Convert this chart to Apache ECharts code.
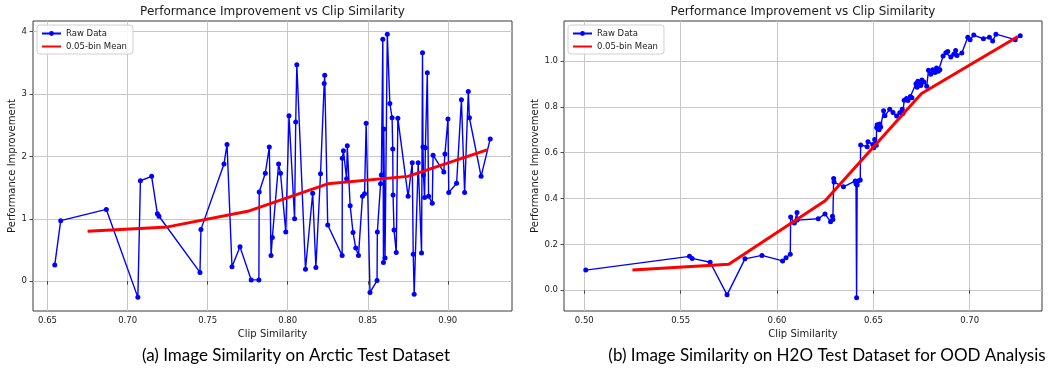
<!DOCTYPE html>
<html><head><meta charset="utf-8">
<script src="https://cdn.jsdelivr.net/npm/echarts@6/dist/echarts.min.js"></script>
<style>html,body{margin:0;padding:0;background:#fff}#c{width:1062px;height:373px}</style>
</head><body><div id="c"></div>
<script>
// ---- Left chart (Arctic) ----
const leftX = [0.6545,0.6582,0.6867,0.7064,0.7080,0.7150,0.7186,0.7196,0.7452,0.7458,
  0.7602,0.7621,0.7652,0.7702,0.7772,0.7820,0.7822,0.7860,0.7885,0.7896,
  0.7904,0.7943,0.7955,0.7988,0.8008,0.8043,0.8050,0.8057,0.8111,0.8156,
  0.8176,0.8205,0.8228,0.8231,0.8250,0.8340,0.8341,0.8348,0.8368,0.8372,
  0.8390,0.8408,0.8425,0.8442,0.8467,0.8480,0.8490,0.8514,0.8558,0.8560,
  0.8580,0.8585,0.8594,0.8598,0.8600,0.8608,0.8622,0.8638,0.8652,0.8656,
  0.8658,0.8664,0.8678,0.8688,0.8752,0.8778,0.8784,0.8790,0.8815,0.8836,
  0.8842,0.8845,0.8848,0.8855,0.8860,0.8872,0.8880,0.8903,0.8908,0.8975,
  0.8982,0.9001,0.9006,0.9055,0.9085,0.9105,0.9128,0.9135,0.9208,0.9265];
const leftY = [0.26,0.97,1.15,-0.26,1.61,1.68,1.08,1.04,0.14,0.83,
  1.88,2.19,0.23,0.55,0.02,0.02,1.43,1.73,2.15,0.41,
  0.70,1.88,1.73,0.79,2.65,1.00,2.55,3.47,0.19,1.41,
  0.22,1.72,3.17,3.30,0.90,0.41,1.97,2.09,1.64,2.17,
  1.21,0.78,0.53,0.41,1.36,1.40,2.53,-0.18,0.01,0.79,
  1.56,1.70,3.88,0.30,2.44,0.37,3.96,2.85,2.62,2.12,
  1.38,0.82,0.46,2.61,1.36,1.90,0.43,-0.21,1.90,0.45,
  3.66,2.15,1.70,1.34,2.14,3.34,1.36,1.25,2.02,1.75,
  2.04,2.60,1.42,1.57,2.91,1.42,3.04,2.62,1.68,2.28];
const leftMeanX = [0.675,0.725,0.775,0.825,0.875,0.925];
const leftMeanY = [0.80,0.87,1.12,1.56,1.68,2.11];
const leftXTicks = [0.65,0.70,0.75,0.80,0.85,0.90];
const leftYTicks = [0,1,2,3,4];

// ---- Right chart (H2O) ----
const rightX = [0.5008,0.5546,0.5560,0.5653,0.5741,0.5834,0.5922,0.6029,0.6047,0.6069,
  0.6071,0.6090,0.6104,0.6105,0.6214,0.6249,0.6278,0.6288,0.6290,0.6294,
  0.6296,0.6345,0.6406,0.6410,0.6413,0.6416,0.6421,0.6432,0.6434,0.6468,
  0.6472,0.6497,0.6502,0.6507,0.6515,0.6517,0.6520,0.6523,0.6526,0.6530,
  0.6534,0.6538,0.6553,0.6560,0.6585,0.6602,0.6621,0.6637,0.6650,0.6653,
  0.6660,0.6672,0.6680,0.6692,0.6700,0.6721,0.6727,0.6731,0.6740,0.6746,
  0.6752,0.6762,0.6777,0.6786,0.6798,0.6808,0.6820,0.6828,0.6837,0.6845,
  0.6862,0.6876,0.6886,0.6902,0.6917,0.6927,0.6934,0.6959,0.6990,0.7002,
  0.7021,0.7071,0.7102,0.7119,0.7136,0.7236,0.7262];
const rightY = [0.088,0.148,0.139,0.122,-0.020,0.137,0.152,0.128,0.142,0.157,
  0.319,0.293,0.339,0.306,0.312,0.333,0.299,0.323,0.309,0.487,
  0.472,0.451,0.477,0.465,-0.033,0.459,0.477,0.481,0.634,0.626,
  0.648,0.636,0.622,0.658,0.632,0.710,0.722,0.705,0.718,0.700,
  0.725,0.712,0.783,0.761,0.790,0.775,0.760,0.774,0.790,0.771,
  0.829,0.836,0.828,0.845,0.840,0.901,0.885,0.912,0.906,0.893,
  0.917,0.908,0.890,0.960,0.942,0.962,0.950,0.970,0.955,0.962,
  1.022,1.036,1.042,1.017,1.029,1.046,1.024,1.035,1.104,1.093,
  1.113,1.097,1.104,1.087,1.117,1.093,1.110];
const rightMeanX = [0.525,0.575,0.625,0.675,0.725];
const rightMeanY = [0.088,0.113,0.390,0.858,1.107];
const rightXTicks = [0.50,0.55,0.60,0.65,0.70];
const rightYTicks = [0.0,0.2,0.4,0.6,0.8,1.0];

const titleText = 'Performance Improvement vs Clip Similarity';
const xName = 'Clip Similarity';
const yName = 'Performance Improvement';
const captionA = '(a) Image Similarity on Arctic Test Dataset';
const captionB = '(b) Image Similarity on H2O Test Dataset for OOD Analysis';

const zip = (xs, ys) => xs.map((x, i) => [x, ys[i]]);
const FONT = 'DejaVu Sans';
const TXT = '#1a1a1a';

function xAxisCfg(gi, min, max, ticks, dec) {
  return {
    type: 'value', gridIndex: gi, min: min, max: max,
    name: xName, nameLocation: 'middle', nameGap: 17,
    nameTextStyle: { fontFamily: FONT, fontSize: 10, color: TXT },
    axisLine: { show: false },
    axisTick: { show: true, length: 3.5, customValues: ticks, lineStyle: { color: '#222', width: 0.8 } },
    axisLabel: { customValues: ticks, margin: 5, fontFamily: FONT, fontSize: 8.5, color: TXT,
      formatter: v => Number(v).toFixed(dec) },
    splitLine: { show: false }
  };
}
function yAxisCfg(gi, min, max, ticks, dec) {
  return {
    type: 'value', gridIndex: gi, min: min, max: max,
    name: yName, nameLocation: 'middle', nameGap: 15, nameRotate: 90,
    nameTextStyle: { fontFamily: FONT, fontSize: 10, color: TXT },
    axisLine: { show: false },
    axisTick: { show: true, length: 3.5, customValues: ticks, lineStyle: { color: '#222', width: 0.8 } },
    axisLabel: { customValues: ticks, margin: 6, fontFamily: FONT, fontSize: 8.5, color: TXT,
      formatter: v => Number(v).toFixed(dec) },
    splitLine: { show: false }
  };
}
function legendCfg(left) {
  return {
    left: left, top: 25, orient: 'vertical', z: 10,
    data: [{ name: 'Raw Data' }, { name: '0.05-bin Mean', itemStyle: { opacity: 0 } }],
    itemWidth: 19, itemHeight: 6, itemGap: 4,
    padding: [4, 6, 3, 4],
    backgroundColor: 'rgba(255,255,255,0.85)',
    borderColor: '#d0d0d0', borderWidth: 1, borderRadius: 3,
    textStyle: { fontFamily: FONT, fontSize: 8.5, color: TXT, padding: [0, 0, 0, 0] },
    selectedMode: false
  };
}
function gridSeries(gi, xt, yt) {
  return {
    name: 'grid' + gi, type: 'line', xAxisIndex: gi, yAxisIndex: gi, data: [], z: 0,
    silent: true, animation: false,
    markLine: {
      z: 0, silent: true, animation: false, symbol: 'none', label: { show: false },
      lineStyle: { color: '#c8c8c8', width: 1, type: 'solid' },
      emphasis: { disabled: true },
      data: xt.map(v => ({ xAxis: v })).concat(yt.map(v => ({ yAxis: v })))
    }
  };
}
function rawSeries(gi, xs, ys) {
  return {
    name: 'Raw Data', type: 'line', xAxisIndex: gi, yAxisIndex: gi,
    data: zip(xs, ys), symbol: 'circle', symbolSize: 5, showSymbol: true,
    color: '#0000ff', lineStyle: { color: '#0000ff', width: 1.4 },
    itemStyle: { color: '#0000ff' }, animation: false, z: 2
  };
}
function meanSeries(gi, xs, ys) {
  return {
    name: '0.05-bin Mean', type: 'line', xAxisIndex: gi, yAxisIndex: gi,
    data: zip(xs, ys), symbol: 'none',
    color: '#ff0000', lineStyle: { color: '#ff0000', width: 3 },
    animation: false, z: 3
  };
}

const chart = echarts.init(document.getElementById('c'), null, { renderer: 'canvas' });
chart.setOption({
  backgroundColor: '#fff',
  animation: false,
  title: [
    { text: titleText, left: 272.5, top: 6, textAlign: 'center', padding: 0,
      textStyle: { fontFamily: FONT, fontSize: 12, fontWeight: 'normal', color: TXT } },
    { text: titleText, left: 803, top: 6, textAlign: 'center', padding: 0,
      textStyle: { fontFamily: FONT, fontSize: 12, fontWeight: 'normal', color: TXT } },
    { text: captionA, left: 296, top: 347, textAlign: 'center', padding: 0,
      textStyle: { fontFamily: 'Lato', fontSize: 17, fontWeight: 'normal', color: '#000' } },
    { text: captionB, left: 827, top: 347, textAlign: 'center', padding: 0,
      textStyle: { fontFamily: 'Lato', fontSize: 17, fontWeight: 'normal', color: '#000' } }
  ],
  legend: [legendCfg(37), legendCfg(568)],
  grid: [
    { left: 33, top: 21, width: 479, height: 290, show: true, borderColor: '#3a3a3a', borderWidth: 1, backgroundColor: 'transparent', containLabel: false },
    { left: 564, top: 21, width: 478, height: 290, show: true, borderColor: '#3a3a3a', borderWidth: 1, backgroundColor: 'transparent', containLabel: false }
  ],
  xAxis: [
    xAxisCfg(0, 0.6409, 0.9401, leftXTicks, 2),
    xAxisCfg(1, 0.4895, 0.7375, rightXTicks, 2)
  ],
  yAxis: [
    yAxisCfg(0, -0.4785, 4.171, leftYTicks, 0),
    yAxisCfg(1, -0.0905, 1.1745, rightYTicks, 1)
  ],
  series: [
    gridSeries(0, leftXTicks, leftYTicks), gridSeries(1, rightXTicks, rightYTicks),
    rawSeries(0, leftX, leftY), meanSeries(0, leftMeanX, leftMeanY),
    rawSeries(1, rightX, rightY), meanSeries(1, rightMeanX, rightMeanY)
  ]
});
</script>
</body></html>
